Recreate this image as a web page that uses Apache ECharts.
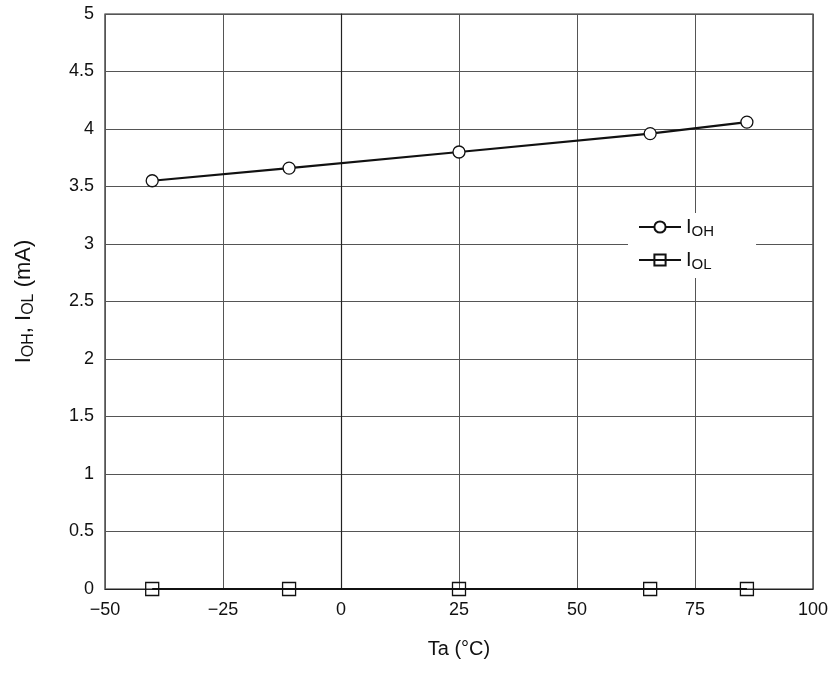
<!DOCTYPE html>
<html><head><meta charset="utf-8">
<script src="https://cdn.jsdelivr.net/npm/echarts@6/dist/echarts.min.js"></script>
<style>html,body{margin:0;padding:0;background:#fff}#c{width:836px;height:673px}</style>
</head><body><div id="c"></div>
<script>
const temps = [-40, -11, 25, 65.5, 86];
const iohValues = [3.55, 3.66, 3.80, 3.96, 4.06];
const iolValues = [0, 0, 0, 0, 0];
const xTicks = [-50, -25, 0, 25, 50, 75, 100];
const yTicks = [0, 0.5, 1, 1.5, 2, 2.5, 3, 3.5, 4, 4.5, 5];

const font = 'Liberation Sans, Arial, sans-serif';
const chart = echarts.init(document.getElementById('c'));
const rich = {n: {fontSize: 20, fontFamily: font, color: '#111'}, s: {fontSize: 15, fontFamily: font, color: '#111', padding: [9,0,0,0]}};
const richY = {n: {fontSize: 22, fontFamily: font, color: '#111'}, s: {fontSize: 16, fontFamily: font, color: '#111', padding: [10,0,0,0]}};
chart.setOption({
  animation: false,
  backgroundColor: '#fff',
  grid: {left: 105, right: 23, top: 14, bottom: 84, show: true, borderColor: '#222', borderWidth: 1.2, backgroundColor: 'transparent'},
  xAxis: {
    type: 'value', min: xTicks[0], max: xTicks[xTicks.length-1], interval: 25,
    name: 'Ta (°C)', nameLocation: 'middle', nameGap: 50,
    nameTextStyle: {fontSize: 20, fontFamily: font, color: '#111'},
    axisLine: {show: true, lineStyle: {color: '#222', width: 1.2}},
    axisTick: {show: false},
    axisLabel: {fontSize: 18, fontFamily: font, color: '#111', margin: 12,
      formatter: v => String(v).replace('-', '\u2212')},
    splitLine: {show: true, lineStyle: {color: '#555', width: 1}}
  },
  yAxis: {
    type: 'value', min: yTicks[0], max: yTicks[yTicks.length-1], interval: 0.5,
    name: '{n|I}{s|OH}{n|, I}{s|OL}{n| (mA)}', nameLocation: 'middle', nameGap: 68,
    nameTextStyle: {rich: richY},
    axisLine: {show: true, lineStyle: {color: '#222', width: 1.2}},
    axisTick: {show: false},
    axisLabel: {fontSize: 18, fontFamily: font, color: '#111', margin: 11},
    splitLine: {show: true, lineStyle: {color: '#555', width: 1}}
  },
  legend: {
    orient: 'vertical', left: 628, top: 213,
    backgroundColor: '#fff', padding: [4, 42, 6, 10], itemGap: 11,
    itemWidth: 42, itemHeight: 14,
    data: [{name: 'IOH'}, {name: 'IOL'}],
    formatter: n => n === 'IOH' ? '{n|I}{s|OH}' : '{n|I}{s|OL}',
    textStyle: {rich: rich}
  },
  series: [
    {name: 'IOH', type: 'line', data: temps.map((t, i) => [t, iohValues[i]]),
     symbol: 'circle', symbolSize: 12, showSymbol: true,
     lineStyle: {color: '#111', width: 2.2},
     itemStyle: {color: '#fff', borderColor: '#111', borderWidth: 1.3}},
    {name: 'IOL', type: 'line', data: temps.map((t, i) => [t, iolValues[i]]),
     symbol: 'rect', symbolSize: 13, showSymbol: true,
     lineStyle: {color: '#111', width: 2.2},
     itemStyle: {color: 'rgba(255,255,255,0)', borderColor: '#111', borderWidth: 1.3}}
  ]
});
</script></body></html>
